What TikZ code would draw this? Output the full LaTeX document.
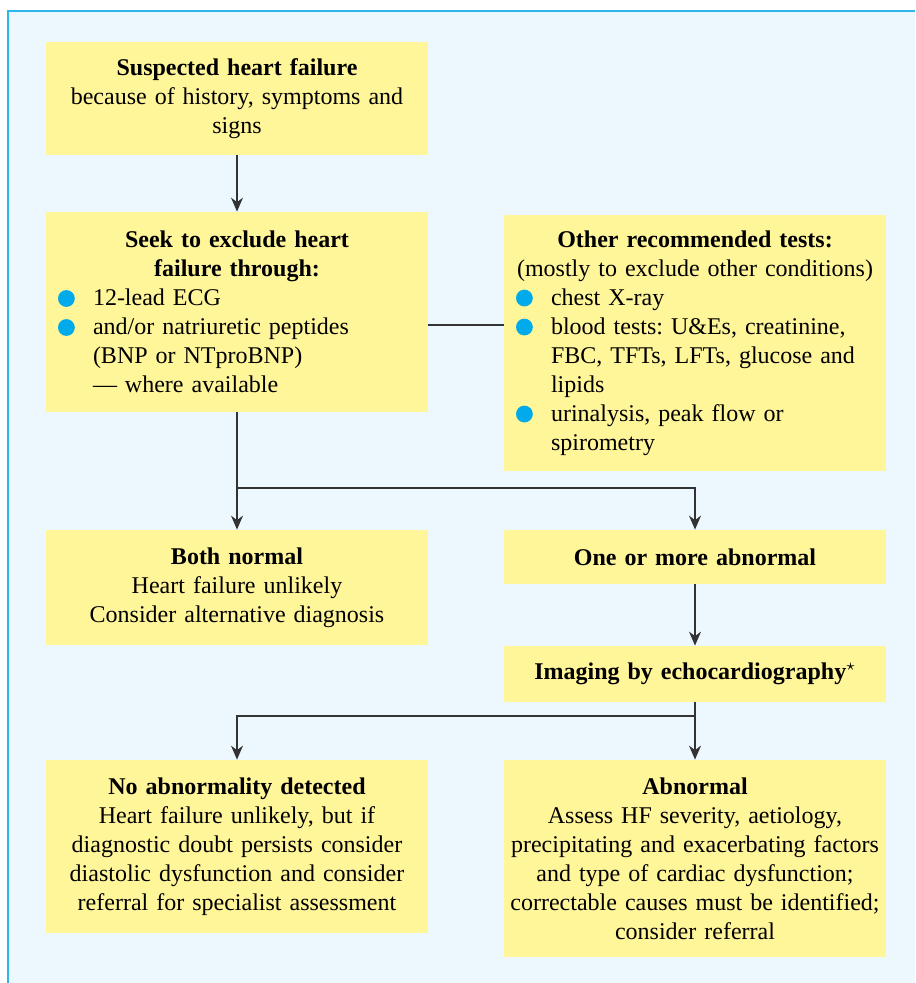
\documentclass[tikz,border=0pt]{standalone}
\usepackage{fontspec}
\setmainfont{Liberation Serif}
\usetikzlibrary{arrows.meta,positioning}

\definecolor{panelblue}{RGB}{237,248,254}
\definecolor{panelline}{RGB}{45,182,236}
\definecolor{boxyellow}{RGB}{255,245,153}
\definecolor{dotblue}{RGB}{0,170,235}

\newcommand{\dotmark}{\tikz[baseline=-3.6pt]\fill[dotblue] (0,0) circle (4.2pt);}
\newcommand{\blt}[1]{\par\raggedright\hangindent=21.5pt\hangafter=1\noindent\makebox[21.5pt][l]{\hspace{4pt}\dotmark}#1\par}
\newcommand{\boxhead}[1]{{\centering #1\par}}

\begin{document}
\frenchspacing
\begin{tikzpicture}[x=0.5pt,y=-0.5pt,>={Stealth[length=7pt,width=6pt]},
    box/.style={fill=boxyellow,inner sep=2pt,text width=187pt,
        font=\fontsize{12}{14.5}\selectfont},
    plainbox/.style={box,align=center},
    link/.style={black!80,line width=0.6pt}]
    \useasboundingbox (0,0) rectangle (915,983);
    \fill[panelblue] (8,11) rectangle (915,983);
    \draw[panelline,line width=1pt] (8,983) -- (8,11) -- (915,11);

    % left column
    \node[plainbox,minimum height=56.5pt] (suspect) at (237,98.5)
        {\textbf{Suspected heart failure}\\because of history, symptoms and\\signs};
    \node[box,minimum height=100pt] (seek) at (237,312)
        {\boxhead{\textbf{Seek to exclude heart}\\\textbf{failure through:}}%
         \blt{12-lead ECG}%
         \blt{and/or natriuretic peptides\newline(BNP or NTproBNP)\newline--- where available}};
    \node[plainbox,minimum height=57.5pt] (normal) at (237,587.5)
        {\textbf{Both normal}\\Heart failure unlikely\\Consider alternative diagnosis};
    \node[plainbox,minimum height=86.5pt] (noabn) at (237,846.5)
        {\textbf{No abnormality detected}\\Heart failure unlikely, but if\\diagnostic doubt persists consider\\diastolic dysfunction and consider\\referral for specialist assessment};

    % right column
    \node[box,minimum height=128pt] (other) at (695,343)
        {\boxhead{\textbf{Other recommended tests:}\\(mostly to exclude other conditions)}%
         \blt{chest X-ray}%
         \blt{blood tests: U\&Es, creatinine,\newline FBC, TFTs, LFTs, glucose and\newline lipids}%
         \blt{urinalysis, peak flow or\newline spirometry}};
    \node[plainbox,minimum height=27pt] (oneabn) at (695,557)
        {\textbf{One or more abnormal}};
    \node[plainbox,minimum height=28pt] (imaging) at (695,674)
        {\textbf{Imaging by echocardiography}$^{\star}$};
    \node[plainbox,minimum height=98.5pt] (abn) at (695,858.5)
        {\textbf{Abnormal}\\Assess HF severity, aetiology,\\precipitating and exacerbating factors\\and type of cardiac dysfunction;\\correctable causes must be identified;\\consider referral};

    \coordinate (tee) at (465,325);
    \coordinate (fork) at (465,488);
    \coordinate (fork2) at (465,716);

    \draw[link] (seek.east |- tee) -- (other.west |- tee);
    \draw[link,->] (suspect) -- (seek);
    \draw[link,->] (seek) -- (normal);
    \draw[link,->] (seek.south |- fork) -| (oneabn.north);
    \draw[link,->] (oneabn) -- (imaging);
    \draw[link,->] (imaging) -- (abn);
    \draw[link,->] (imaging.south |- fork2) -| (noabn.north);
\end{tikzpicture}
\end{document}
